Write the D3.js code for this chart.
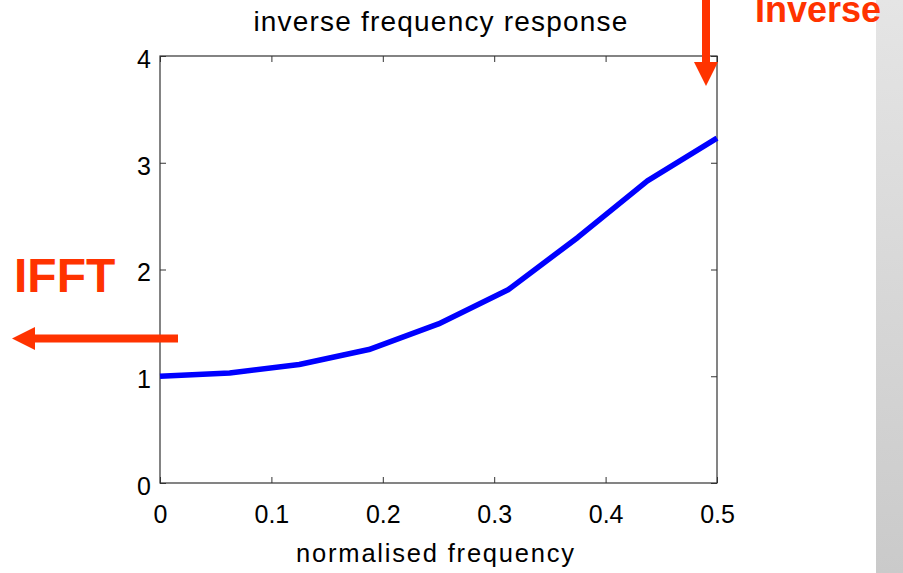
<!DOCTYPE html>
<html>
<head>
<meta charset="utf-8">
<script src="https://cdn.jsdelivr.net/npm/d3@7"></script>
<style>
  body { margin: 0; background: #fff; }
  svg { display: block; }
  .tick text { font-family: "Liberation Sans", Arial, sans-serif; font-size: 25px; fill: #000; }
  .domain { display: none; }
  .tick line { stroke: #333; }
</style>
</head>
<body>
<div id="chart"></div>
<script>
// normalised frequency samples and inverse gain
var freq = [0, 0.0625, 0.125, 0.1875, 0.25, 0.3125, 0.375, 0.4375, 0.5];
var gain = [1.0, 1.03, 1.11, 1.25, 1.49, 1.81, 2.30, 2.83, 3.23];
var xTicks = [0, 0.1, 0.2, 0.3, 0.4, 0.5];
var yTicks = [0, 1, 2, 3, 4];

var width = 903, height = 573;
var svg = d3.select("#chart").append("svg").attr("width", width).attr("height", height);

var x = d3.scaleLinear().domain([0, 0.5]).range([160, 717]);
var y = d3.scaleLinear().domain([0, 4]).range([483, 56]);

// grey slide edge on the right
var grad = svg.append("defs").append("linearGradient")
    .attr("id", "edge").attr("x1", 0).attr("y1", 0).attr("x2", 0).attr("y2", 1);
grad.append("stop").attr("offset", "0%").attr("stop-color", "#e5e5e5");
grad.append("stop").attr("offset", "100%").attr("stop-color", "#cacaca");
svg.append("rect").attr("x", 876).attr("y", 0).attr("width", 27).attr("height", height)
    .attr("fill", "url(#edge)");

// axes, ticks pointing inward on all four sides
var fmt = function(d) { return d === 0 ? "0" : d3.format("")(d); };
svg.append("g").attr("transform", "translate(0,483)")
    .call(d3.axisBottom(x).tickValues(xTicks).tickFormat(fmt).tickSize(-6).tickPadding(22));
svg.append("g").attr("transform", "translate(0,56)")
    .call(d3.axisTop(x).tickValues(xTicks).tickFormat("").tickSize(-6));
svg.append("g").attr("transform", "translate(160,0)")
    .call(d3.axisLeft(y).tickValues(yTicks).tickFormat(fmt).tickSize(-6).tickPadding(9));
svg.append("g").attr("transform", "translate(717,0)")
    .call(d3.axisRight(y).tickValues(yTicks).tickFormat("").tickSize(-6));

svg.selectAll(".tick text").attr("dy", function() {
  return d3.select(this.parentNode.parentNode).attr("transform") === "translate(160,0)" ? "0.45em" : "0.71em";
});

svg.append("rect").attr("x", 160).attr("y", 56).attr("width", 557).attr("height", 427)
    .attr("fill", "none").attr("stroke", "#333").attr("stroke-width", 1.2);

// curve
var line = d3.line().x(function(d, i) { return x(freq[i]); }).y(function(d) { return y(d); });
svg.append("path").datum(gain).attr("d", line)
    .attr("fill", "none").attr("stroke", "#0000ff").attr("stroke-width", 5.5)
    .attr("stroke-linejoin", "round");

// title and axis label
svg.append("text").attr("x", 441).attr("y", 31).attr("text-anchor", "middle")
    .style("font-family", "Liberation Sans, Arial, sans-serif").style("font-size", "28px")
    .style("letter-spacing", "1.2px").text("inverse frequency response");
svg.append("text").attr("x", 436).attr("y", 562).attr("text-anchor", "middle")
    .style("font-family", "Liberation Sans, Arial, sans-serif").style("font-size", "25.5px")
    .style("letter-spacing", "1.8px").text("normalised frequency");

// red annotations
var red = "#ff3300";
svg.append("text").attr("x", 755).attr("y", 22)
    .style("font-family", "Liberation Sans, Arial, sans-serif").style("font-weight", "bold")
    .style("font-size", "36px").attr("fill", red).text("Inverse");
svg.append("text").attr("x", 14).attr("y", 292)
    .style("font-family", "Liberation Sans, Arial, sans-serif").style("font-weight", "bold")
    .style("font-size", "48px").attr("fill", red).text("IFFT");

// downward arrow
svg.append("rect").attr("x", 702).attr("y", 0).attr("width", 8).attr("height", 64).attr("fill", red);
svg.append("path").attr("d", "M694,62 L718,62 L706,86 Z").attr("fill", red);
// leftward arrow
svg.append("rect").attr("x", 34).attr("y", 334.5).attr("width", 144).attr("height", 8).attr("fill", red);
svg.append("path").attr("d", "M35,327 L35,350 L12,338.5 Z").attr("fill", red);
</script>
</body>
</html>
